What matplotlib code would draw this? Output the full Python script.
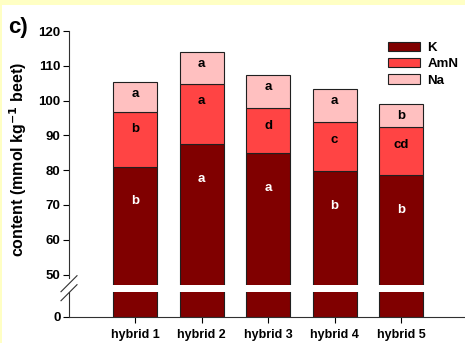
import matplotlib
matplotlib.use("Agg")
import matplotlib.pyplot as plt
from matplotlib.patches import Rectangle
import numpy as np

plt.rcParams["font.family"] = ["Liberation Sans", "DejaVu Sans"]
plt.rcParams["font.weight"] = "bold"

# Ion contents per hybrid (mmol/kg beet), stacked K -> AmN -> Na
hybrids = ["hybrid 1", "hybrid 2", "hybrid 3", "hybrid 4", "hybrid 5"]
k_vals = [81.0, 87.6, 84.8, 79.8, 78.6]
amn_vals = [15.7, 17.3, 13.0, 14.0, 13.7]
na_vals = [8.6, 9.1, 9.5, 9.5, 6.7]
k_letters = ["b", "a", "a", "b", "b"]
amn_letters = ["b", "a", "d", "c", "cd"]
na_letters = ["a", "a", "a", "a", "b"]

col_k = "#800000"
col_amn = "#FF4444"
col_na = "#FFC0C0"

W, H = 465, 343
fig = plt.figure(figsize=(W / 100, H / 100), dpi=100, facecolor="#FFFFC4")
fig.patches.append(Rectangle((2 / W, 0), 1, 1 - 5 / H, transform=fig.transFigure,
                             facecolor="white", edgecolor="none", zorder=-5))

def fy(py):
    return 1 - py / H

left = 69 / W
width = 6 * 66.4 / W
ax = fig.add_axes([left, fy(285), width, fy(31) - fy(285)])
axb = fig.add_axes([left, fy(316.7), width, fy(292) - fy(316.7)])
for a in (ax, axb):
    a.patch.set_alpha(0)

x = np.arange(1, len(hybrids) + 1)
k = np.array(k_vals)
amn = np.array(amn_vals)
na = np.array(na_vals)
bw = 0.66
edge = dict(edgecolor="#202020", linewidth=0.8)

ax.bar(x, k, bw, color=col_k, label="K", **edge)
ax.bar(x, amn, bw, bottom=k, color=col_amn, label="AmN", **edge)
ax.bar(x, na, bw, bottom=k + amn, color=col_na, label="Na", **edge)
axb.bar(x, k, bw, color=col_k, **edge)

fs = 9.5
for i in range(len(x)):
    ax.text(x[i], k[i] - 10, k_letters[i], ha="center", va="center",
            color="white", fontsize=fs, fontweight="bold")
    ax.text(x[i], k[i] + amn[i] - 5, amn_letters[i], ha="center", va="center",
            color="black", fontsize=fs, fontweight="bold")
    ax.text(x[i], k[i] + amn[i] + na[i] - 3.5, na_letters[i], ha="center", va="center",
            color="black", fontsize=fs, fontweight="bold")

# upper part of the broken axis
ax.set_xlim(0, 6)
ax.set_ylim(47, 120)
ax.set_yticks(range(50, 121, 10))
ax.set_xticks([])
for s in ("top", "right", "bottom"):
    ax.spines[s].set_visible(False)
ax.spines["left"].set_bounds(49, 120)
ax.tick_params(axis="y", direction="out", length=4, width=0.8, labelsize=fs, pad=2)

# lower part
axb.set_xlim(0, 6)
axb.set_ylim(0, 7)
axb.set_yticks([0])
axb.set_xticks(x)
axb.set_xticklabels(hybrids)
for s in ("top", "right"):
    axb.spines[s].set_visible(False)
axb.tick_params(axis="y", direction="out", length=4, width=0.8, labelsize=fs, pad=2)
axb.tick_params(axis="x", direction="out", length=4, width=0.8, labelsize=9, pad=5)
for a in (ax, axb):
    for s in a.spines.values():
        s.set_linewidth(0.8)
        s.set_color("#303030")

# break marks
for y0 in (291.7, 300.7):
    fig.add_artist(plt.Line2D([61 / W, 77 / W], [fy(y0), fy(y0 - 16)],
                              color="#303030", linewidth=0.8))

leg = ax.legend(loc="upper left", bbox_to_anchor=(388 / W, fy(42)),
                bbox_transform=fig.transFigure, frameon=False, fontsize=fs,
                handlelength=2.4, handleheight=0.7, handletextpad=0.6,
                labelspacing=0.3, borderpad=0, borderaxespad=0)

fig.text(18 / W, fy(160), "content (mmol kg$^{\\mathbf{-1}}$ beet)", rotation=90,
         ha="center", va="center", fontsize=11.5, fontweight="bold")
fig.text(8 / W, fy(28), "c)", ha="left", va="center", fontsize=16, fontweight="bold")

fig.savefig("out.png", dpi=100, facecolor=fig.get_facecolor())
